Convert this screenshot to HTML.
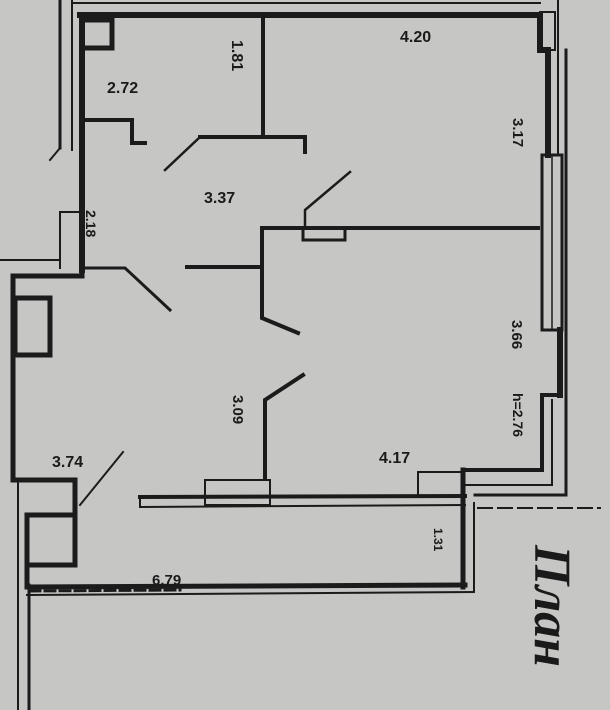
<!DOCTYPE html>
<html><head><meta charset="utf-8"><style>
html,body{margin:0;padding:0;background:#c6c6c4;}
svg{display:block}
text{font-family:"Liberation Sans",sans-serif;font-weight:bold;fill:#1a1a1a}
</style></head><body>
<svg width="610" height="710" viewBox="0 0 610 710" xmlns="http://www.w3.org/2000/svg">
<rect width="610" height="710" fill="#c6c6c4"/>
<g stroke="#1b1b1b" fill="none" stroke-linecap="square">
<line x1="72" y1="3" x2="540" y2="3" stroke-width="2"/>
<line x1="72" y1="0" x2="72" y2="150" stroke-width="2"/>
<line x1="60" y1="0" x2="60" y2="148" stroke-width="3"/>
<line x1="60" y1="148" x2="50" y2="160" stroke-width="2"/>
<line x1="80" y1="15" x2="540" y2="15" stroke-width="6"/>
<line x1="82" y1="15" x2="82" y2="270" stroke-width="6"/>
<rect x="82" y="20" width="30" height="28" stroke-width="5"/>
<line x1="60" y1="212" x2="60" y2="268" stroke-width="2"/>
<line x1="60" y1="212" x2="80" y2="212" stroke-width="2"/>
<line x1="0" y1="260" x2="60" y2="260" stroke-width="2"/>
<path d="M540 15 L540 50 L548 50" stroke-width="6"/>
<rect x="540" y="12" width="15" height="38" stroke-width="2"/>
<line x1="548" y1="50" x2="548" y2="155" stroke-width="6"/>
<line x1="558" y1="0" x2="558" y2="155" stroke-width="2"/>
<rect x="542" y="155" width="20" height="175" stroke-width="3"/>
<line x1="552" y1="155" x2="552" y2="330" stroke-width="1.5"/>
<line x1="566" y1="50" x2="566" y2="495" stroke-width="3"/>
<line x1="560" y1="330" x2="560" y2="395" stroke-width="6"/>
<path d="M560 395 L542 395 L542 470 L463 470" stroke-width="4"/>
<path d="M566 495 L475 495" stroke-width="3"/>
<line x1="552" y1="400" x2="552" y2="485" stroke-width="2"/>
<line x1="465" y1="485" x2="552" y2="485" stroke-width="2"/>
<line x1="478" y1="508" x2="600" y2="508" stroke-width="2" stroke-dasharray="14 6"/>
<line x1="263" y1="15" x2="263" y2="137" stroke-width="4"/>
<path d="M200 137 L305 137 L305 152" stroke-width="4"/>
<line x1="200" y1="137" x2="165" y2="170" stroke-width="2.5"/>
<path d="M84 120 L132 120 L132 143 L145 143" stroke-width="4"/>
<line x1="262" y1="228" x2="538" y2="228" stroke-width="4"/>
<rect x="303" y="228" width="42" height="12" stroke-width="3"/>
<path d="M305 228 L305 210 L350 172" stroke-width="2.5"/>
<path d="M262 228 L262 318 L298 333" stroke-width="4"/>
<line x1="187" y1="267" x2="262" y2="267" stroke-width="4"/>
<path d="M85 268 L125 268 L170 310" stroke-width="3"/>
<path d="M82 268 L82 276 L13 276 L13 480" stroke-width="5"/>
<rect x="15" y="298" width="35" height="57" stroke-width="5"/>
<path d="M13 480 L75 480 L75 510" stroke-width="5"/>
<line x1="80" y1="505" x2="123" y2="452" stroke-width="2"/>
<rect x="27" y="515" width="48" height="50" stroke-width="5"/>
<path d="M27 515 L27 585" stroke-width="5"/>
<line x1="18" y1="480" x2="18" y2="710" stroke-width="2"/>
<line x1="29" y1="585" x2="29" y2="710" stroke-width="3"/>
<path d="M265 478 L265 400 L303 375" stroke-width="4"/>
<line x1="140" y1="497" x2="465" y2="496" stroke-width="4"/>
<line x1="140" y1="507" x2="465" y2="505" stroke-width="2"/>
<line x1="140" y1="497" x2="140" y2="507" stroke-width="2"/>
<rect x="205" y="480" width="65" height="25" stroke-width="2"/>
<rect x="418" y="472" width="45" height="24" stroke-width="2"/>
<line x1="463" y1="470" x2="463" y2="587" stroke-width="5"/>
<line x1="474" y1="503" x2="474" y2="592" stroke-width="2"/>
<line x1="27" y1="587" x2="465" y2="585" stroke-width="5"/>
<line x1="27" y1="595" x2="474" y2="592" stroke-width="2"/>
<line x1="30" y1="591" x2="180" y2="590" stroke-width="3" stroke-dasharray="10 5"/>
</g>
<text x="107" y="93" font-size="16">2.72</text>
<text x="204" y="203" font-size="16">3.37</text>
<text x="400" y="42" font-size="16">4.20</text>
<text x="379" y="463" font-size="16">4.17</text>
<text x="52" y="467" font-size="16">3.74</text>
<text x="152" y="585" font-size="15">6.79</text>
<text transform="translate(232,40) rotate(90)" font-size="16">1.81</text>
<text transform="translate(513,118) rotate(90)" font-size="15">3.17</text>
<text transform="translate(512,320) rotate(90)" font-size="15">3.66</text>
<text transform="translate(233,395) rotate(90)" font-size="15">3.09</text>
<text transform="translate(513,393) rotate(90)" font-size="14">h=2.76</text>
<text transform="translate(434,528) rotate(90)" font-size="12">1.31</text>
<text transform="translate(86,210) rotate(90)" font-size="14">2.18</text>
<text transform="translate(535,545) rotate(90)" font-size="52" style="font-family:'Liberation Serif',serif;font-style:italic;font-weight:bold">План</text>
</svg>
</body></html>
